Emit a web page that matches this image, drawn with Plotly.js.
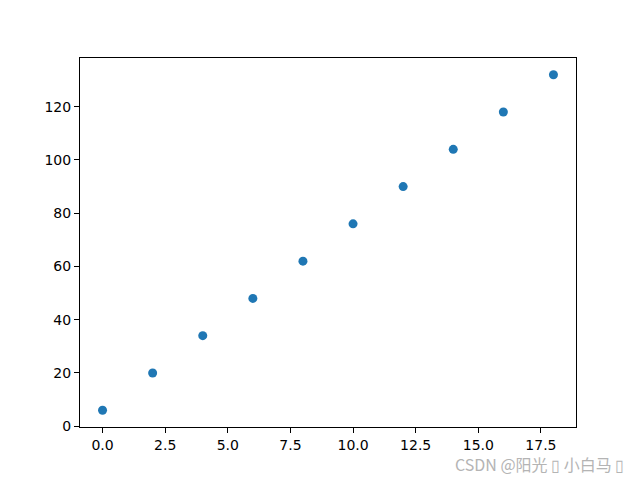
<!DOCTYPE html>
<html>
<head>
<meta charset="utf-8">
<script src="https://cdn.plot.ly/plotly-3.0.1.min.js"></script>
<style>html,body{margin:0;padding:0;background:#fff;}#chart{width:640px;height:480px;}</style>
</head>
<body>
<div id="chart"></div>
<script>
const xValues = [0, 2, 4, 6, 8, 10, 12, 14, 16, 18];
const yValues = [6, 20, 34, 48, 62, 76, 90, 104, 118, 132];
const xTickVals = [0, 2.5, 5, 7.5, 10, 12.5, 15, 17.5];
const xTickText = ["0.0", "2.5", "5.0", "7.5", "10.0", "12.5", "15.0", "17.5"];
const yTickVals = [0, 20, 40, 60, 80, 100, 120];
const watermark = "CSDN @阳光 \u25AF 小白马 \u25AF";

const trace = {
  x: xValues, y: yValues, type: 'scatter', mode: 'markers',
  marker: {color: '#1f77b4', size: 9}
};
const axisCommon = {
  showgrid: false, zeroline: false, showline: true, mirror: true,
  linecolor: '#000', linewidth: 1, ticks: 'outside', ticklen: 5, tickwidth: 1,
  tickcolor: '#000', tickfont: {family: 'DejaVu Sans', size: 14, color: '#000'}
};
const layout = {
  width: 640, height: 480,
  margin: {l: 80, r: 64, t: 58, b: 53},
  paper_bgcolor: '#fff', plot_bgcolor: '#fff',
  showlegend: false,
  xaxis: Object.assign({}, axisCommon, {range: [-0.9, 18.9], tickvals: xTickVals, ticktext: xTickText}),
  yaxis: Object.assign({}, axisCommon, {range: [-0.3, 138.3], tickvals: yTickVals}),
  annotations: [{
    text: watermark, xref: 'paper', yref: 'paper', x: 1.1, y: -0.1,
    xanchor: 'right', yanchor: 'middle', showarrow: false,
    font: {family: 'Noto Sans CJK SC', size: 16, color: '#b4b4b4'}
  }]
};
Plotly.newPlot('chart', [trace], layout, {staticPlot: true, displayModeBar: false});
</script>
</body>
</html>
